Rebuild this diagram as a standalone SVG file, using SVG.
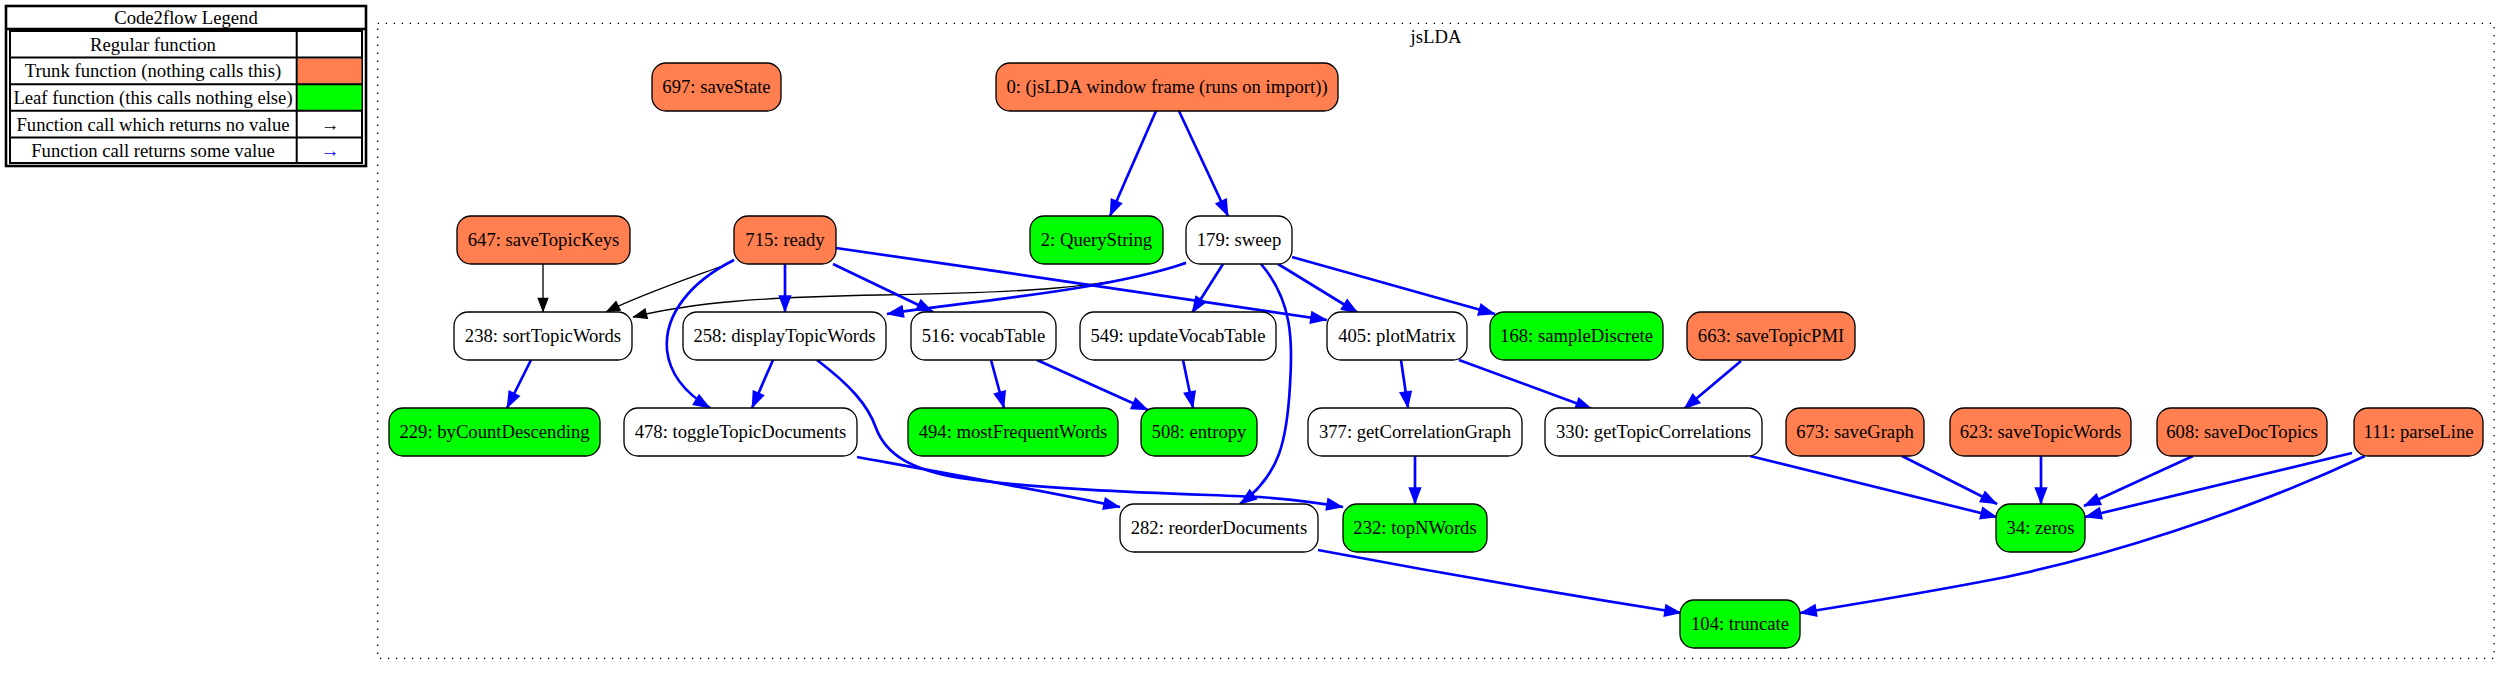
<svg xmlns="http://www.w3.org/2000/svg" width="2510" height="675" viewBox="0 0 2510 675">
<style>
text{font-family:"Liberation Serif","Times New Roman",serif;font-size:18.67px;fill:#000;text-anchor:middle}
.n rect{stroke:#000;stroke-width:1.33}
.reg rect{fill:#fff}
.trunk rect{fill:#ff7f50}
.leaf rect{fill:#00ff00}
.e path{fill:none}
.b{stroke:#0000ff;stroke-width:2.67;marker-end:url(#ab)}
.k{stroke:#000;stroke-width:1.33;marker-end:url(#ak)}
.lg{fill:none;stroke:#000}
</style>
<defs>
<marker id="ab" markerUnits="userSpaceOnUse" markerWidth="40" markerHeight="40" refX="0" refY="0" orient="auto" overflow="visible">
<path d="M-15.5,-4.7 L-3,0 L-15.5,4.7 Z" fill="#0000ff" stroke="#0000ff" stroke-width="2.67"/>
</marker>
<marker id="ak" markerUnits="userSpaceOnUse" markerWidth="40" markerHeight="40" refX="0" refY="0" orient="auto" overflow="visible">
<path d="M-13.5,-4.7 L-1.2,0 L-13.5,4.7 Z" fill="#000" stroke="#000" stroke-width="1.33"/>
</marker>
</defs>
<rect width="2510" height="675" fill="#fff"/>

<g id="legend">
<rect x="6" y="6" width="360" height="160" fill="#fff" stroke="#000" stroke-width="2.6"/>
<line x1="6" y1="29" x2="366" y2="29" stroke="#000" stroke-width="2.6"/>
<text x="186" y="24">Code2flow Legend</text>
<rect x="10" y="31" width="352" height="132" class="lg" stroke-width="2"/>
<rect x="297.5" y="58.5" width="64" height="25.5" fill="#ff7f50"/>
<rect x="297.5" y="85" width="64" height="25" fill="#00ff00"/>
<g stroke="#000" stroke-width="2">
<line x1="10" y1="57.5" x2="362" y2="57.5"/>
<line x1="10" y1="84.2" x2="362" y2="84.2"/>
<line x1="10" y1="110.8" x2="362" y2="110.8"/>
<line x1="10" y1="137.4" x2="362" y2="137.4"/>
<line x1="296.7" y1="31" x2="296.7" y2="163"/>
</g>
<text x="153" y="50.5">Regular function</text>
<text x="153" y="77">Trunk function (nothing calls this)</text>
<text x="153" y="103.5">Leaf function (this calls nothing else)</text>
<text x="153" y="130.5">Function call which returns no value</text>
<text x="153" y="157">Function call returns some value</text>
<text x="330" y="130.5">→</text>
<text x="330" y="157" style="fill:#0000ff">→</text>
</g>

<g id="cluster_jsLDA">
<rect x="377.7" y="23.3" width="2116.3" height="635" fill="none" stroke="#000" stroke-width="1.33" stroke-dasharray="1.33 6.67"/>
<text x="1436" y="43">jsLDA</text>
</g>

<g id="edges" class="e">
<path class="b" d="M1156,111 L1110,216"/>
<path class="b" d="M1179,111 L1228,216"/>
<path class="k" d="M543,264 L543,312"/>
<path class="k" d="M725,265 C690,278 640,295 606,312"/>
<path class="k" d="M1186,262 C1120,290 1000,293 880,295 C760,297 690,303 633,317"/>
<path class="b" d="M1186,263 C1100,292 960,302 887,314"/>
<path class="b" d="M785,264 L785,312"/>
<path class="b" d="M833,264 L933,312"/>
<path class="b" d="M836,248 C1000,272 1200,300 1327,320"/>
<path class="b" d="M734,260 C690,282 664,315 667,350 C670,378 690,396 710,408"/>
<path class="b" d="M1223,264 L1192,313"/>
<path class="b" d="M1278,264 L1358,313"/>
<path class="b" d="M1292,257 L1495,314"/>
<path class="b" d="M1261,264 C1292,300 1293,340 1290,385 C1287,440 1280,475 1240,504"/>
<path class="b" d="M531,360 L507,408"/>
<path class="b" d="M773,360 L752,408"/>
<path class="b" d="M817,360 C850,385 868,405 876,428 C886,455 912,470 960,478 C1060,492 1200,494 1260,497 C1300,500 1320,503 1343,507"/>
<path class="b" d="M991,360 L1004,408"/>
<path class="b" d="M1037,360 L1148,410"/>
<path class="b" d="M1183,360 L1193,408"/>
<path class="b" d="M1401,360 L1408,408"/>
<path class="b" d="M1459,360 L1592,409"/>
<path class="b" d="M1741,361 L1684,409"/>
<path class="b" d="M1415,456 L1415,504"/>
<path class="b" d="M857,457 C950,474 1050,492 1120,507"/>
<path class="b" d="M1318,550 C1450,575 1580,597 1681,613"/>
<path class="b" d="M1750,456 L1997,517"/>
<path class="b" d="M1902,456 L1997,504"/>
<path class="b" d="M2041,456 L2041,504"/>
<path class="b" d="M2193,456 L2084,506"/>
<path class="b" d="M2352,453 L2085,517"/>
<path class="b" d="M2365,456 C2250,510 2100,560 1980,582 C1900,597 1850,605 1800,613"/>
</g>

<g id="node_697" class="n trunk"><rect x="652" y="63" width="129" height="48" rx="14"/><text x="716.5" y="93">697: saveState</text></g>
<g id="node_0" class="n trunk"><rect x="996" y="63" width="342" height="48" rx="14"/><text x="1167" y="93">0: (jsLDA window frame (runs on import))</text></g>

<g id="node_647" class="n trunk"><rect x="457" y="216" width="173" height="48" rx="14"/><text x="543.5" y="246">647: saveTopicKeys</text></g>
<g id="node_715" class="n trunk"><rect x="734" y="216" width="102" height="48" rx="14"/><text x="785" y="246">715: ready</text></g>
<g id="node_2" class="n leaf"><rect x="1030" y="216" width="133" height="48" rx="14"/><text x="1096.5" y="246">2: QueryString</text></g>
<g id="node_179" class="n reg"><rect x="1186" y="216" width="106" height="48" rx="14"/><text x="1239" y="246">179: sweep</text></g>

<g id="node_238" class="n reg"><rect x="454" y="312" width="178" height="48" rx="14"/><text x="543" y="342">238: sortTopicWords</text></g>
<g id="node_258" class="n reg"><rect x="683" y="312" width="203" height="48" rx="14"/><text x="784.5" y="342">258: displayTopicWords</text></g>
<g id="node_516" class="n reg"><rect x="911" y="312" width="145" height="48" rx="14"/><text x="983.5" y="342">516: vocabTable</text></g>
<g id="node_549" class="n reg"><rect x="1080" y="312" width="196" height="48" rx="14"/><text x="1178" y="342">549: updateVocabTable</text></g>
<g id="node_405" class="n reg"><rect x="1327" y="312" width="140" height="48" rx="14"/><text x="1397" y="342">405: plotMatrix</text></g>
<g id="node_168" class="n leaf"><rect x="1490" y="312" width="173" height="48" rx="14"/><text x="1576.5" y="342">168: sampleDiscrete</text></g>
<g id="node_663" class="n trunk"><rect x="1687" y="312" width="168" height="48" rx="14"/><text x="1771" y="342">663: saveTopicPMI</text></g>

<g id="node_229" class="n leaf"><rect x="389" y="408" width="211" height="48" rx="14"/><text x="494.5" y="438">229: byCountDescending</text></g>
<g id="node_478" class="n reg"><rect x="624" y="408" width="233" height="48" rx="14"/><text x="740.5" y="438">478: toggleTopicDocuments</text></g>
<g id="node_494" class="n leaf"><rect x="908" y="408" width="210" height="48" rx="14"/><text x="1013" y="438">494: mostFrequentWords</text></g>
<g id="node_508" class="n leaf"><rect x="1141" y="408" width="116" height="48" rx="14"/><text x="1199" y="438">508: entropy</text></g>
<g id="node_377" class="n reg"><rect x="1308" y="408" width="214" height="48" rx="14"/><text x="1415" y="438">377: getCorrelationGraph</text></g>
<g id="node_330" class="n reg"><rect x="1545" y="408" width="217" height="48" rx="14"/><text x="1653.5" y="438">330: getTopicCorrelations</text></g>
<g id="node_673" class="n trunk"><rect x="1786" y="408" width="138" height="48" rx="14"/><text x="1855" y="438">673: saveGraph</text></g>
<g id="node_623" class="n trunk"><rect x="1950" y="408" width="181" height="48" rx="14"/><text x="2040.5" y="438">623: saveTopicWords</text></g>
<g id="node_608" class="n trunk"><rect x="2157" y="408" width="170" height="48" rx="14"/><text x="2242" y="438">608: saveDocTopics</text></g>
<g id="node_111" class="n trunk"><rect x="2354" y="408" width="129" height="48" rx="14"/><text x="2418.5" y="438">111: parseLine</text></g>

<g id="node_282" class="n reg"><rect x="1120" y="504" width="198" height="48" rx="14"/><text x="1219" y="534">282: reorderDocuments</text></g>
<g id="node_232" class="n leaf"><rect x="1343" y="504" width="144" height="48" rx="14"/><text x="1415" y="534">232: topNWords</text></g>
<g id="node_34" class="n leaf"><rect x="1996" y="504" width="89" height="48" rx="14"/><text x="2040.5" y="534">34: zeros</text></g>

<g id="node_104" class="n leaf"><rect x="1680" y="600" width="120" height="48" rx="14"/><text x="1740" y="630">104: truncate</text></g>
</svg>
